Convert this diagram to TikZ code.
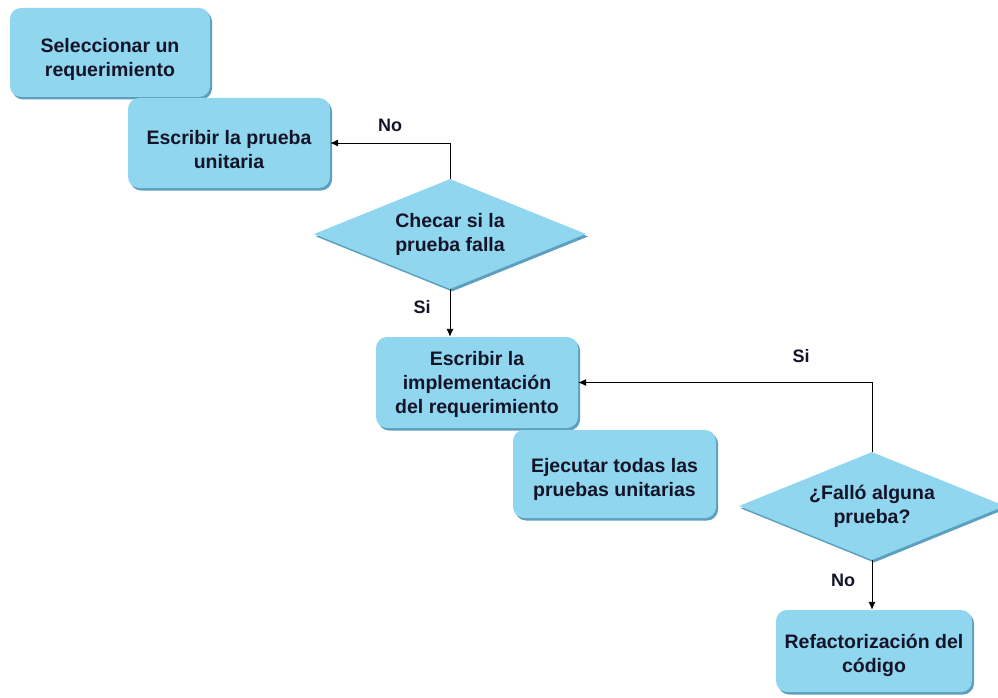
\documentclass[tikz,border=0pt]{standalone}
\usepackage{fontspec}
\setmainfont{Liberation Sans}
\usetikzlibrary{shapes.geometric,shadows,arrows.meta}
\definecolor{boxc}{HTML}{8FD6EE}
\definecolor{shadc}{HTML}{5C9FBE}
\definecolor{txtc}{HTML}{141428}
\newcommand{\dropby}[1]{\rule{0pt}{#1}}
\tikzset{
  base/.style={fill=boxc, text=txtc, font=\fontsize{19.5}{24}\selectfont\bfseries, align=center,
    general shadow={shadow xshift=2pt, shadow yshift=-2.5pt, fill=shadc}},
  stepbox/.style={base, rectangle, rounded corners=11pt, inner sep=0pt},
  decision/.style={base, diamond, aspect=2.5, inner sep=0pt},
  arr/.style={draw=black, line width=0.9pt, -{Latex[length=8pt,width=7pt]}},
  lbl/.style={font=\fontsize{18}{21}\selectfont\bfseries, text=txtc}
}
\begin{document}
\begin{tikzpicture}[x=1pt,y=-1pt]
\useasboundingbox (0,0) rectangle (998,698);
\node[stepbox, minimum width=200pt, minimum height=89pt] (b1) at (110,52.5) {\dropby{28pt}Seleccionar un\\requerimiento};
\node[stepbox, minimum width=202pt, minimum height=90pt] (b2) at (229,143) {\dropby{28pt}Escribir la prueba\\unitaria};
\node[decision, minimum width=272pt, minimum height=110pt] (d1) at (450,234) {Checar si la\\prueba falla};
\node[stepbox, minimum width=202pt, minimum height=91pt] (b4) at (477,382.5) {\dropby{18pt}Escribir la\\implementación\\del requerimiento};
\node[stepbox, minimum width=203pt, minimum height=88pt] (b5) at (614.5,474) {\dropby{26pt}Ejecutar todas las\\pruebas unitarias};
\node[decision, minimum width=266pt, minimum height=108pt] (d2) at (872,506) {¿Falló alguna\\prueba?};
\node[stepbox, minimum width=196pt, minimum height=82pt] (b7) at (874,651) {\dropby{23pt}Refactorización del\\código};
\draw[arr] (d1.north) |- (b2.east);
\draw[arr] (d1.south) -- (d1.south |- b4.north);
\draw[arr] (d2.north) |- (b4.east);
\draw[arr] (d2.south) -- (d2.south |- b7.north);
\node[lbl] (l1) at (390,125) {No};
\node[lbl] (l2) at (422,307) {Si};
\node[lbl] (l3) at (801,356) {Si};
\node[lbl] (l4) at (843,580) {No};
\end{tikzpicture}
\end{document}
